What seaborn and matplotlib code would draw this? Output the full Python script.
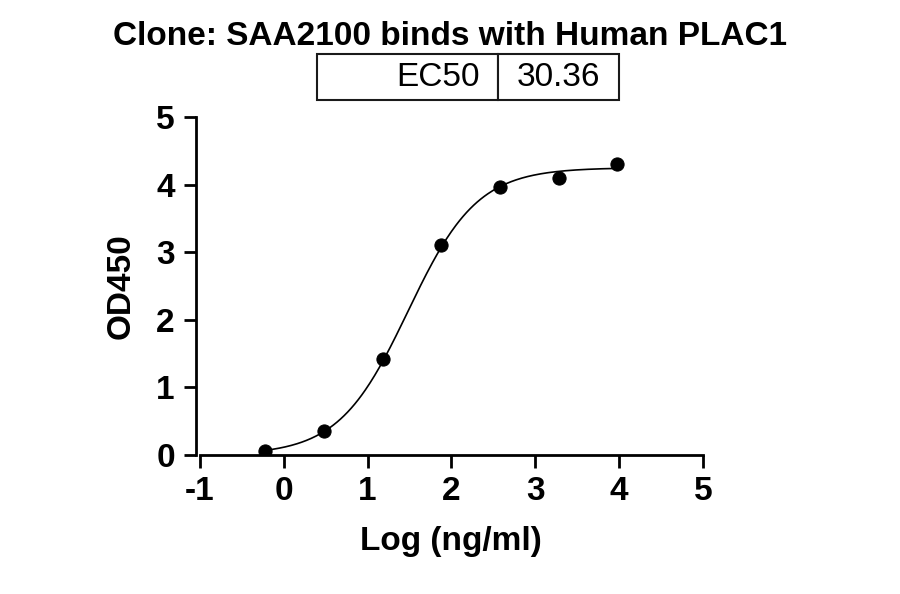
import numpy as np
import matplotlib
matplotlib.use("Agg")
import matplotlib.pyplot as plt
import seaborn as sns

x_log = [-0.22, 0.48, 1.18, 1.88, 2.58, 3.28, 3.98]
od450 = [0.06, 0.35, 1.42, 3.10, 3.97, 4.10, 4.30]
# 4PL fit parameters
bottom, top, log_ec50, hill = 0.0, 4.25, np.log10(30.36), 1.05
ec50_label = "30.36"

sns.set_theme(style="ticks")
plt.rcParams['font.family'] = ['Liberation Sans', 'DejaVu Sans']
plt.rcParams['font.weight'] = 'bold'
plt.rcParams['axes.unicode_minus'] = False
for k in ['text.color', 'axes.labelcolor', 'xtick.color', 'ytick.color', 'axes.edgecolor']:
    plt.rcParams[k] = 'black'

fig = plt.figure(figsize=(9, 5.94), dpi=100)
ax = fig.add_axes([0.222, 0.234, 0.559, 0.569])

xc = np.linspace(min(x_log), max(x_log), 300)
yc = bottom + (top - bottom) / (1 + 10 ** ((log_ec50 - xc) * hill))
ax.plot(xc, yc, color="black", lw=1.2)
sns.scatterplot(x=x_log, y=od450, ax=ax, color="black", s=90, edgecolor="black", zorder=3)

ax.set_xlim(-1, 5)
ax.set_ylim(0, 5)
ax.set_xticks(range(-1, 6))
ax.set_yticks(range(0, 6))
ax.tick_params(width=2, length=9, labelsize=24, direction="out", pad=6)
for lab in ax.get_xticklabels() + ax.get_yticklabels():
    lab.set_fontweight("bold")
for s in ["top", "right"]:
    ax.spines[s].set_visible(False)
for s in ["left", "bottom"]:
    ax.spines[s].set_linewidth(2)
ax.spines["left"].set_position(("outward", 3))
ax.set_xlabel("Log (ng/ml)", fontsize=24, fontweight="bold", labelpad=14)
ax.set_ylabel("OD450", fontsize=24, fontweight="bold", labelpad=14)
fig.text(0.5, 0.925, "Clone: SAA2100 binds with Human PLAC1", fontsize=24, fontweight="bold", ha="center")

tab = ax.table(cellText=[["EC50", ec50_label]], cellLoc="right",
               bbox=[0.233, 1.05, 0.6, 0.135], colWidths=[0.6, 0.4])
tab.auto_set_font_size(False)
for (r, c), cell in tab.get_celld().items():
    cell.set_linewidth(1.5)
    cell.get_text().set_fontsize(24)
    cell.get_text().set_fontweight("normal")
    if c == 1:
        cell.get_text().set_ha("center"); cell._loc = "center"

fig.savefig("out.png", dpi=100)
